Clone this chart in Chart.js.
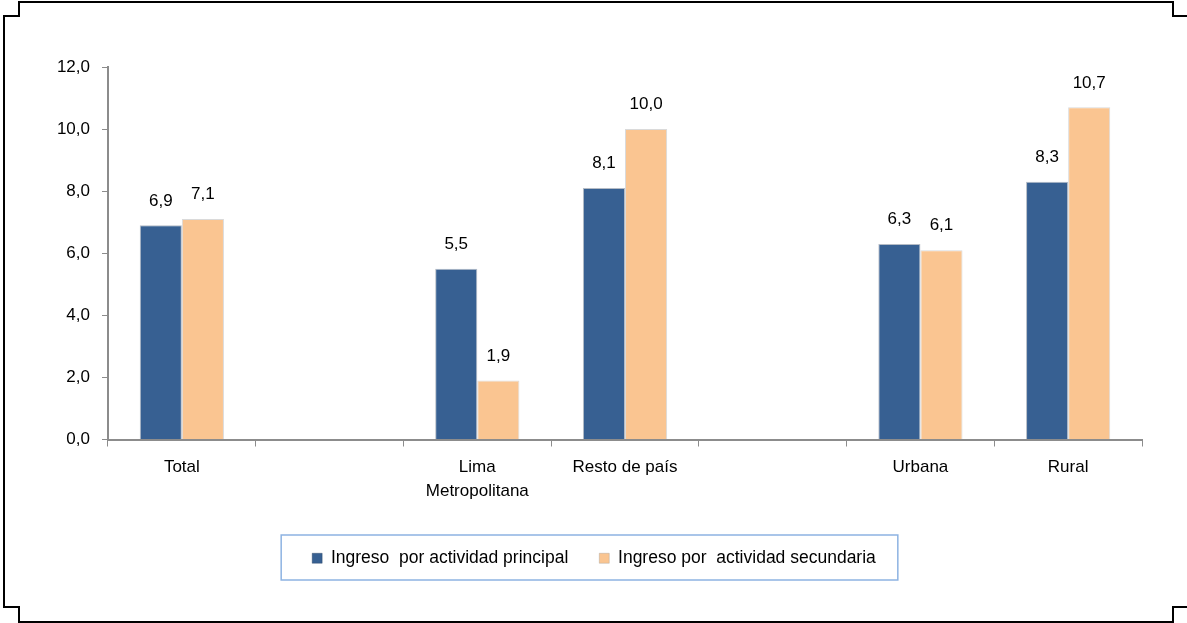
<!DOCTYPE html>
<html>
<head>
<meta charset="utf-8">
<script src="https://cdn.jsdelivr.net/npm/chart.js@4"></script>
<style>
  html, body { margin: 0; padding: 0; background: #ffffff; }
  #wrap { width: 1187px; height: 623px; position: relative; }
</style>
</head>
<body>
<div id="wrap"><canvas id="ingresoChart"></canvas></div>
<script>
// Categories (empty slots keep the gaps between groups)
const categories = ['Total', '', ['Lima', 'Metropolitana'], 'Resto de país', '', 'Urbana', 'Rural'];
const ingresoPrincipal = [6.9, null, 5.5, 8.1, null, 6.3, 8.3];
const ingresoSecundaria = [7.1, null, 1.9, 10.0, null, 6.1, 10.7];
const yTicks = [0, 2, 4, 6, 8, 10, 12];
const seriesNames = ['Ingreso  por actividad principal', 'Ingreso por  actividad secundaria'];

const FONT = "'Liberation Sans', Arial, sans-serif";

function fmt(v) {
    return v.toFixed(1).replace('.', ',');
}

// Draws the values above each bar
const valueLabels = {
    id: 'valueLabels',
    afterDatasetsDraw(chart) {
        const ctx = chart.ctx;
        ctx.save();
        ctx.font = '17px ' + FONT;
        ctx.fillStyle = '#000000';
        ctx.textAlign = 'center';
        ctx.textBaseline = 'bottom';
        chart.data.datasets.forEach((ds, i) => {
            chart.getDatasetMeta(i).data.forEach((bar, j) => {
                const v = ds.data[j];
                if (v === null) return;
                ctx.fillText(fmt(v), bar.x, bar.y - 16);
            });
        });
        ctx.restore();
    }
};

// Frame with notched corners and border around the legend
const frame = {
    id: 'frame',
    afterDraw(chart) {
        const ctx = chart.ctx;
        ctx.save();
        ctx.strokeStyle = '#000000';
        ctx.lineWidth = 2;
        ctx.beginPath();
        ctx.moveTo(1187, 16);
        ctx.lineTo(1173, 16);
        ctx.lineTo(1173, 2);
        ctx.lineTo(19, 2);
        ctx.lineTo(19, 16);
        ctx.lineTo(4, 16);
        ctx.lineTo(4, 607);
        ctx.lineTo(19, 607);
        ctx.lineTo(19, 622);
        ctx.lineTo(1173, 622);
        ctx.lineTo(1173, 607);
        ctx.lineTo(1187, 607);
        ctx.stroke();

        const boxes = chart.legend.legendHitBoxes;
        if (boxes && boxes.length) {
            const left = Math.min(...boxes.map(b => b.left)) - 31;
            const right = Math.max(...boxes.map(b => b.left + b.width)) + 22;
            ctx.strokeStyle = '#8db3e2';
            ctx.lineWidth = 1.5;
            ctx.strokeRect(left, 535, right - left, 45);
        }
        ctx.restore();
    }
};

const ctx = document.getElementById('ingresoChart').getContext('2d');
new Chart(ctx, {
    type: 'bar',
    data: {
        labels: categories,
        datasets: [{
            label: seriesNames[0],
            data: ingresoPrincipal,
            backgroundColor: '#376092',
            borderColor: 'rgba(40,60,90,0.35)',
            borderWidth: 1,
            categoryPercentage: 0.57,
            barPercentage: 1.0
        }, {
            label: seriesNames[1],
            data: ingresoSecundaria,
            backgroundColor: '#fac591',
            borderColor: 'rgba(150,150,150,0.35)',
            borderWidth: 1,
            categoryPercentage: 0.57,
            barPercentage: 1.0
        }]
    },
    options: {
        responsive: true,
        maintainAspectRatio: false,
        animation: false,
        layout: {
            padding: { top: 67, right: 45, left: 46, bottom: 46 }
        },
        scales: {
            x: {
                grid: {
                    display: true,
                    drawOnChartArea: false,
                    color: '#8c8c8c',
                    tickLength: 7,
                    offset: true
                },
                border: { color: '#8c8c8c', width: 2 },
                ticks: {
                    color: '#000000',
                    font: { family: FONT, size: 17, lineHeight: 1.45 },
                    padding: 8,
                    maxRotation: 0,
                    autoSkip: false
                },
                afterFit(scale) { scale.height = 79; }
            },
            y: {
                min: 0,
                max: 12,
                afterBuildTicks(scale) {
                    scale.ticks = yTicks.map(v => ({ value: v }));
                },
                grid: {
                    display: true,
                    drawOnChartArea: false,
                    color: '#8c8c8c',
                    tickLength: 6
                },
                border: { color: '#8c8c8c', width: 2 },
                ticks: {
                    color: '#000000',
                    font: { family: FONT, size: 17 },
                    padding: 12,
                    callback: v => fmt(v)
                },
                afterFit(scale) { scale.width = 62; }
            }
        },
        plugins: {
            legend: {
                display: true,
                position: 'bottom',
                labels: {
                    color: '#000000',
                    font: { family: FONT, size: 17.5 },
                    boxWidth: 10,
                    boxHeight: 10,
                    padding: 31
                }
            },
            tooltip: { enabled: false }
        }
    },
    plugins: [valueLabels, frame]
});
</script>
</body>
</html>
